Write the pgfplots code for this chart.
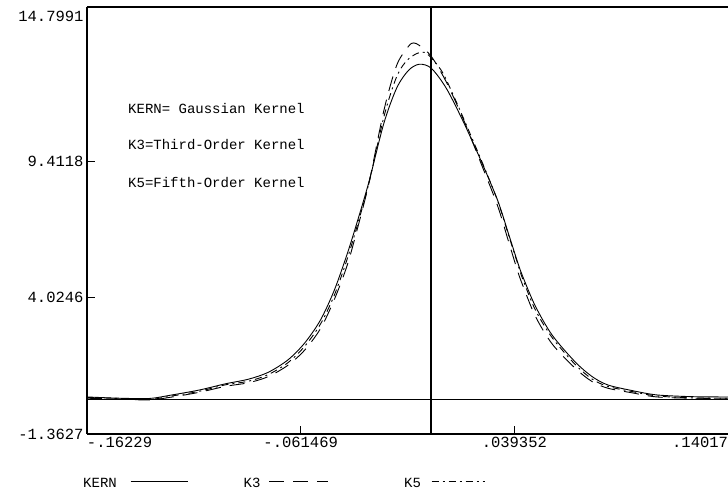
\documentclass[border=0pt]{standalone}
\usepackage{fontspec}
\setmainfont{Liberation Mono}
\usepackage{pgfplots}
\pgfplotsset{compat=1.18}
\usetikzlibrary{calc}

% legend samples: line length, then total cell width
\pgfplotsset{
  legline/.style 2 args={legend image code/.code={%
    \draw[##1] (0pt,3pt) -- (#1,3pt);
    \path[draw=none,fill=none] (0pt,0pt) rectangle (#2,0.1pt);}},
}

\begin{document}
\begin{tikzpicture}
\begin{axis}[
    name=ax,
    scale only axis, width=641pt, height=427pt,
    xmin=-0.16229, xmax=0.14017, ymin=-1.3627, ymax=15.5,
    axis x line*=bottom, axis y line*=left,
    axis line style={line width=1.3pt, -},
    xtick={-0.16229,-0.061469,0.039352,0.14017},
    xticklabels={\rlap{-.16229}, -.061469, .039352, \llap{.14017}},
    ytick={-1.3627,4.0246,9.4118},
    yticklabels={-1.3627,4.0246,9.4118},
    extra y ticks={14.7991}, extra y tick labels={14.7991},
    extra y tick style={yticklabel style={yshift=8pt}, major tick length=0pt},
    tick align=inside, major tick length=8pt,
    tick style={black, line width=0.8pt},
    /pgf/number format/assume math mode=true,
    ticklabel style={font=\fontsize{15.5}{15.5}\selectfont},
    clip=false,
    legend columns=3, legend plot pos=right,
    legend style={at={(rel axis cs:-0.0062,-0.117)}, anchor=west,
        draw=none, fill=none, inner sep=0pt, column sep=0pt,
        nodes={inner sep=0pt}, font=\fontsize{14}{14}\selectfont},
]
% reference lines y=0 and x=0
\addplot[black, line width=1pt, forget plot] coordinates {(-0.16229,0) (0.14017,0)};
\addplot[black, line width=1.2pt, forget plot] coordinates {(0,-1.3627) (0,15.5)};

% KERN
\addplot[black, line width=0.9pt, smooth, tension=0.5, legline={57pt}{113pt}]
coordinates {
(-0.16229,0.10) (-0.14688,0.05) (-0.13288,0.04) (-0.12354,0.16) (-0.10954,0.37)
(-0.09693,0.62) (-0.08619,0.80) (-0.07686,1.07) (-0.06752,1.56) (-0.05958,2.23)
(-0.05211,3.14) (-0.04558,4.32) (-0.03951,5.75) (-0.03484,7.00) (-0.02924,8.60)
(-0.02224,10.90) (-0.01616,12.30) (-0.01056,13.00) (-0.00543,13.24) (0.00017,13.08)
(0.00717,12.30) (0.01511,11.00) (0.02351,9.45) (0.03145,7.87) (0.03658,6.55)
(0.04079,5.45) (0.04312,4.90) (0.04919,3.70) (0.05713,2.55) (0.06787,1.50)
(0.07580,0.92) (0.08327,0.58) (0.09448,0.36) (0.10662,0.18) (0.12389,0.11) (0.14017,0.10)
};

% K3
\addplot[black, line width=0.9pt, smooth, tension=0.5, dash pattern=on 15pt off 9pt,
    legline={59pt}{135pt}]
coordinates {
(-0.16229,0.05) (-0.14688,0.02) (-0.13288,-0.02) (-0.12354,0.08) (-0.10954,0.28)
(-0.09693,0.52) (-0.08619,0.66) (-0.07686,0.90) (-0.06752,1.35) (-0.05958,1.95)
(-0.05211,2.80) (-0.04558,3.95) (-0.03951,5.30) (-0.03484,6.70) (-0.02924,8.55)
(-0.02224,11.40) (-0.01616,13.20) (-0.01056,13.95) (-0.00822,14.08) (-0.00543,13.98)
(0.00017,13.55) (0.00717,12.55) (0.01511,11.10) (0.02351,9.35) (0.03145,7.65)
(0.03658,6.25) (0.04079,5.10) (0.04312,4.55) (0.04919,3.30) (0.05713,2.20)
(0.06787,1.25) (0.07580,0.72) (0.08327,0.45) (0.09448,0.27) (0.10662,0.10)
(0.12389,0.05) (0.14017,0.05)
};

% K5
\addplot[black, line width=0.9pt, smooth, tension=0.5,
    dash pattern=on 7pt off 4pt on 2pt off 4pt, legline={53pt}{60pt}]
coordinates {
(-0.16229,0.08) (-0.14688,0.04) (-0.13288,0.00) (-0.12354,0.12) (-0.10954,0.32)
(-0.09693,0.58) (-0.08619,0.72) (-0.07686,0.98) (-0.06752,1.45) (-0.05958,2.10)
(-0.05211,2.98) (-0.04558,4.12) (-0.03951,5.55) (-0.03484,6.85) (-0.02924,8.55)
(-0.02224,11.15) (-0.01616,12.75) (-0.01056,13.45) (-0.00310,13.71) (0.00484,13.00)
(0.01092,11.95) (0.01511,11.15) (0.02351,9.50) (0.03145,7.85) (0.03658,6.50)
(0.04079,5.40) (0.04312,4.80) (0.04919,3.55) (0.05713,2.45) (0.06787,1.40)
(0.07580,0.82) (0.08327,0.52) (0.09448,0.32) (0.10662,0.14) (0.12389,0.06) (0.14017,0.05)
};

\legend{\makebox[47pt][l]{KERN}, \makebox[25pt][l]{K3}, \makebox[27pt][l]{K5}}

\draw[line width=1.3pt] (rel axis cs:0,1) -- (rel axis cs:1,1);
\begin{scope}[font=\fontsize{14}{14}\selectfont]
\node[anchor=west, inner sep=0pt] at (rel axis cs:0.064,0.763) {KERN= Gaussian Kernel};
\node[anchor=west, inner sep=0pt] at (rel axis cs:0.064,0.677) {K3=Third-Order Kernel};
\node[anchor=west, inner sep=0pt] at (rel axis cs:0.064,0.590) {K5=Fifth-Order Kernel};
\end{scope}
\end{axis}
\pgfresetboundingbox
\path ($(ax.south west)+(-87pt,-58pt)$) rectangle ($(ax.south west)+(641pt,434pt)$);
\end{tikzpicture}
\end{document}
